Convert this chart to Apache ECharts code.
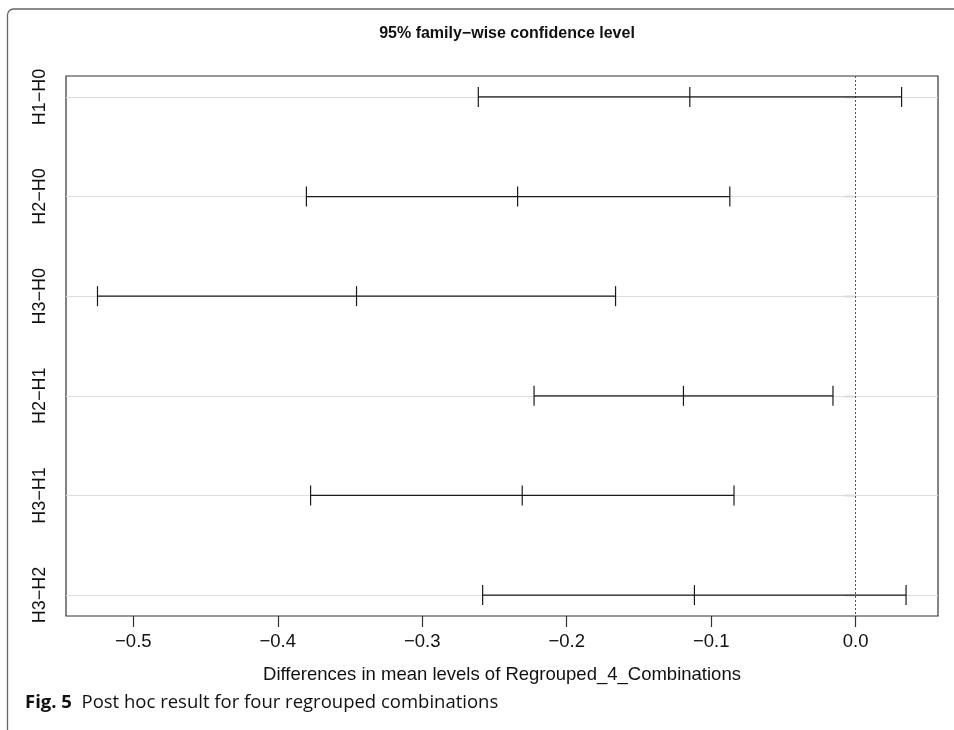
<!DOCTYPE html>
<html>
<head>
<meta charset="utf-8">
<script src="https://cdn.jsdelivr.net/npm/echarts@6/dist/echarts.min.js"></script>
<style>
  html, body { margin: 0; padding: 0; background: #fff; }
  #main { width: 954px; height: 730px; }
</style>
</head>
<body>
<div id="main"></div>
<script>
// Tukey HSD comparisons, top to bottom
var comparisons = ['H1\u2212H0', 'H2\u2212H0', 'H3\u2212H0', 'H2\u2212H1', 'H3\u2212H1', 'H3\u2212H2'];
var diffs = [-0.1148, -0.2340, -0.3455, -0.1192, -0.2308, -0.1116];
var lowers = [-0.2612, -0.3802, -0.5248, -0.2226, -0.3773, -0.2582];
var uppers = [0.0318, -0.0871, -0.1662, -0.0157, -0.0842, 0.0349];
var xTicks = [-0.5, -0.4, -0.3, -0.2, -0.1, 0.0];
var rowPos = [1, 2, 3, 4, 5, 6];

var font = 'Liberation Sans';
var chart = echarts.init(document.getElementById('main'));

var seriesData = [];
for (var i = 0; i < comparisons.length; i++) {
    seriesData.push([rowPos[i], lowers[i], diffs[i], uppers[i]]);
}

var renderBar = function(params, api) {
    var y = api.value(0);
    var lo = api.coord([api.value(1), y]);
    var mid = api.coord([api.value(2), y]);
    var hi = api.coord([api.value(3), y]);
    var h = 10;
    var st = { stroke: '#1a1a1a', lineWidth: 1.2 };
    var mk = function(x1, y1, x2, y2) {
        return { type: 'line', shape: { x1: x1, y1: y1, x2: x2, y2: y2 }, style: st };
    };
    return {
        type: 'group',
        children: [
            mk(lo[0], lo[1], hi[0], hi[1]),
            mk(lo[0], lo[1] - h, lo[0], lo[1] + h),
            mk(mid[0], mid[1] - h, mid[0], mid[1] + h),
            mk(hi[0], hi[1] - h, hi[0], hi[1] + h)
        ]
    };
};

var gridLine = function(v) {
    return { yAxis: v, lineStyle: { color: '#ddd', width: 1, type: 'solid' } };
};

var option = {
    backgroundColor: '#fff',
    animation: false,
    title: {
        text: '95% family\u2212wise confidence level',
        left: 502,
        textAlign: 'center',
        top: 21,
        textStyle: { fontFamily: font, fontSize: 16, fontWeight: 'bold', color: '#111' }
    },
    grid: {
        left: 66, right: 16, top: 76, bottom: 114,
        show: true, borderColor: '#333', borderWidth: 1.2, backgroundColor: 'transparent'
    },
    xAxis: {
        type: 'value',
        min: -0.5466,
        max: 0.0570,
        name: 'Differences in mean levels of Regrouped_4_Combinations',
        nameLocation: 'middle',
        nameGap: 49,
        nameTextStyle: { fontFamily: font, fontSize: 18.5, color: '#111' },
        axisLine: { show: false },
        axisTick: { show: true, length: 11, customValues: xTicks, lineStyle: { color: '#333', width: 1.2 } },
        axisLabel: {
            customValues: xTicks,
            margin: 16,
            fontFamily: font, fontSize: 18.5, color: '#111',
            formatter: function(v) {
                return (v < 0 ? '\u2212' : '') + Math.abs(v).toFixed(1);
            }
        },
        splitLine: { show: false }
    },
    yAxis: {
        type: 'value',
        inverse: true,
        min: 0.79,
        max: 6.21,
        axisLine: { show: false },
        axisTick: { show: true, length: 11, customValues: rowPos, lineStyle: { color: '#333', width: 1.2 } },
        axisLabel: {
            customValues: rowPos,
            rotate: 90,
            margin: 17,
            fontFamily: font, fontSize: 18, color: '#111',
            formatter: function(v) { return comparisons[Math.round(v) - 1] || ''; }
        },
        splitLine: { show: false }
    },
    graphic: [
        {
            type: 'rect',
            shape: { x: 7.5, y: 9, width: 1200, height: 1200, r: [6, 0, 0, 0] },
            style: { fill: null, stroke: '#666', lineWidth: 1.3 },
            silent: true
        },
        {
            type: 'text',
            left: 25, top: 693,
            style: {
                rich: {
                    b: { fontFamily: 'Open Sans', fontSize: 18.5, fontWeight: 'bold', fill: '#111' },
                    n: { fontFamily: 'Open Sans', fontSize: 18.5, fill: '#111' }
                },
                text: '{b|Fig. 5}{n|  Post hoc result for four regrouped combinations}'
            }
        }
    ],
    series: [
        {
            type: 'custom',
            renderItem: renderBar,
            data: seriesData,
            z: 3,
            markLine: {
                silent: true,
                symbol: 'none',
                label: { show: false },
                z: 1,
                data: rowPos.map(gridLine).concat([
                    { xAxis: 0, lineStyle: { color: '#555', width: 1, type: [2, 2] } }
                ])
            }
        }
    ]
};
chart.setOption(option);
</script>
</body>
</html>
